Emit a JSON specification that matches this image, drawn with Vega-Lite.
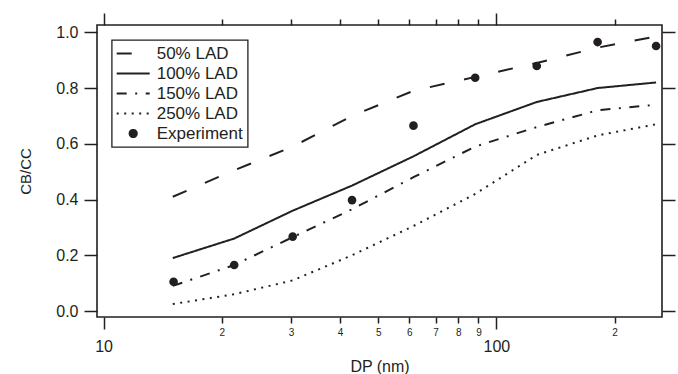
{
  "$schema": "https://vega.github.io/schema/vega-lite/v6.json",
  "width": 565,
  "height": 292,
  "autosize": {"type": "none"},
  "padding": {"left": 97, "top": 25, "right": 16, "bottom": 57},
  "background": "white",
  "config": {
    "font": "Liberation Sans",
    "view": {"stroke": "#231f20", "strokeWidth": 1.6},
    "axis": {"tickColor": "#231f20", "labelColor": "#231f20", "titleColor": "#231f20", "grid": false, "domain": false, "tickWidth": 1.5}
  },
  "datasets": {
    "model": [
      {"series": "50% LAD", "D": 15.0, "C": 0.41},
      {"series": "50% LAD", "D": 21.5, "C": 0.505},
      {"series": "50% LAD", "D": 30.3, "C": 0.59},
      {"series": "50% LAD", "D": 42.9, "C": 0.70},
      {"series": "50% LAD", "D": 61.5, "C": 0.79},
      {"series": "50% LAD", "D": 88.3, "C": 0.84},
      {"series": "50% LAD", "D": 126.7, "C": 0.89},
      {"series": "50% LAD", "D": 181, "C": 0.945},
      {"series": "50% LAD", "D": 255, "C": 0.985},
      {"series": "100% LAD", "D": 15.0, "C": 0.19},
      {"series": "100% LAD", "D": 21.5, "C": 0.26},
      {"series": "100% LAD", "D": 30.3, "C": 0.36},
      {"series": "100% LAD", "D": 42.9, "C": 0.45},
      {"series": "100% LAD", "D": 61.5, "C": 0.555},
      {"series": "100% LAD", "D": 88.3, "C": 0.67},
      {"series": "100% LAD", "D": 126.7, "C": 0.75},
      {"series": "100% LAD", "D": 181, "C": 0.80},
      {"series": "100% LAD", "D": 255, "C": 0.82},
      {"series": "150% LAD", "D": 15.0, "C": 0.09},
      {"series": "150% LAD", "D": 21.5, "C": 0.165},
      {"series": "150% LAD", "D": 30.3, "C": 0.265},
      {"series": "150% LAD", "D": 42.9, "C": 0.365},
      {"series": "150% LAD", "D": 61.5, "C": 0.48},
      {"series": "150% LAD", "D": 88.3, "C": 0.59},
      {"series": "150% LAD", "D": 126.7, "C": 0.66},
      {"series": "150% LAD", "D": 181, "C": 0.72},
      {"series": "150% LAD", "D": 255, "C": 0.74},
      {"series": "250% LAD", "D": 15.0, "C": 0.025},
      {"series": "250% LAD", "D": 21.5, "C": 0.06},
      {"series": "250% LAD", "D": 30.3, "C": 0.11},
      {"series": "250% LAD", "D": 42.9, "C": 0.20},
      {"series": "250% LAD", "D": 61.5, "C": 0.305},
      {"series": "250% LAD", "D": 88.3, "C": 0.42},
      {"series": "250% LAD", "D": 126.7, "C": 0.56},
      {"series": "250% LAD", "D": 181, "C": 0.63},
      {"series": "250% LAD", "D": 255, "C": 0.67}
    ],
    "exp": [
      {"D": 15.07, "C": 0.105},
      {"D": 21.5, "C": 0.165},
      {"D": 30.3, "C": 0.267},
      {"D": 42.9, "C": 0.398},
      {"D": 61.5, "C": 0.665},
      {"D": 88.3, "C": 0.837},
      {"D": 126.7, "C": 0.879},
      {"D": 181, "C": 0.965},
      {"D": 255, "C": 0.951}
    ]
  },
  "layer": [
    {
      "data": {"name": "model"},
      "mark": {"type": "line", "strokeWidth": 2, "color": "#231f20"},
      "encoding": {
        "x": {
          "field": "D", "type": "quantitative",
          "scale": {"type": "log", "domain": [9.62, 264], "nice": false},
          "axis": {
            "orient": "bottom",
            "values": [10, 20, 30, 40, 50, 60, 70, 80, 90, 100, 200],
            "labelExpr": "datum.value == 10 || datum.value == 100 ? '' + datum.value : (datum.value > 100 ? '' + (datum.value / 100) : '' + (datum.value / 10))",
            "labelFontSize": {"condition": {"test": "datum.value == 10 || datum.value == 100", "value": 16}, "value": 10},
            "tickSize": {"condition": {"test": "datum.value == 10 || datum.value == 100", "value": 12}, "value": 6},
            "labelPadding": {"condition": {"test": "datum.value == 10 || datum.value == 100", "value": 9}, "value": 4},
            "labelFlush": false,
            "labelOverlap": false,
            "title": "DP (nm)",
            "titleFontSize": 16,
            "titleFontWeight": "normal",
            "titlePadding": 4
          }
        },
        "y": {
          "field": "C", "type": "quantitative",
          "scale": {"domain": [-0.0215, 1.0262], "nice": false, "zero": false},
          "axis": {
            "orient": "left",
            "values": [0, 0.2, 0.4, 0.6, 0.8, 1.0],
            "format": ".1f",
            "tickSize": 13,
            "labelFontSize": 16,
            "labelPadding": 6,
            "title": "CB/CC",
            "titleFontSize": 15,
            "titleFontWeight": "normal",
            "titlePadding": 22
          }
        },
        "strokeDash": {
          "field": "series", "type": "nominal",
          "scale": {
            "domain": ["50% LAD", "100% LAD", "150% LAD", "250% LAD", "Experiment"],
            "range": [[15, 20], [1, 0], [10, 8.5, 2, 8.5], [2, 5.5], [1, 0]]
          },
          "legend": {
            "title": null,
            "orient": "none",
            "legendX": 14.7,
            "legendY": 15,
            "direction": "vertical",
            "padding": 5,
            "strokeColor": "#231f20",
            "symbolSize": 144,
            "symbolStrokeWidth": 2,
            "symbolStrokeColor": "#231f20",
            "symbolOffset": 8,
            "labelOffset": 15,
            "labelFontSize": 17,
            "labelColor": "#231f20",
            "rowPadding": 2,
            "encode": {
              "legend": {"update": {"strokeWidth": {"value": 1.3}}},
              "symbols": {
                "update": {
                  "shape": {"signal": "datum.value === 'Experiment' ? 'M0.6,0A0.6,0.6,0,1,1,-0.6,0A0.6,0.6,0,1,1,0.6,0Z' : 'M-2.75,0L2.75,0'"},
                  "fill": {"signal": "datum.value === 'Experiment' ? '#231f20' : 'transparent'"},
                  "stroke": {"value": "#231f20"},
                  "strokeWidth": {"value": 2},
                  "opacity": {"value": 1}
                }
              }
            }
          }
        }
      }
    },
    {
      "data": {"name": "exp"},
      "mark": {"type": "circle", "size": 75, "color": "#231f20", "opacity": 1},
      "encoding": {
        "x": {
          "field": "D", "type": "quantitative",
          "axis": {
            "orient": "top",
            "values": [10, 20, 30, 40, 50, 60, 70, 80, 90, 100, 200],
            "labels": false,
            "tickSize": {"condition": {"test": "datum.value == 10 || datum.value == 100", "value": 12}, "value": 6},
            "title": null
          }
        },
        "y": {
          "field": "C", "type": "quantitative",
          "axis": {
            "orient": "right",
            "values": [0, 0.2, 0.4, 0.6, 0.8, 1.0],
            "labels": false,
            "tickSize": 13,
            "title": null
          }
        }
      }
    }
  ],
  "resolve": {"axis": {"x": "independent", "y": "independent"}}
}
